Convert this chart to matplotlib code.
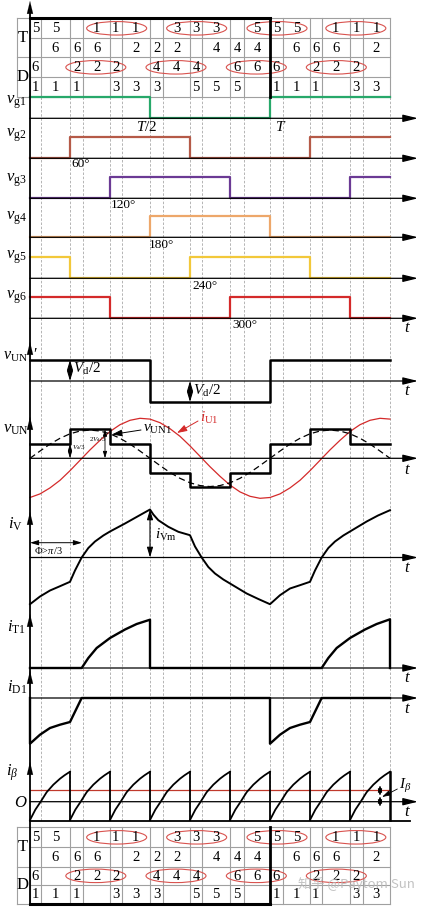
import matplotlib.pyplot as plt
import numpy as np
from matplotlib.patches import Ellipse

plt.rcParams['font.family'] = ['Liberation Serif', 'DejaVu Serif']
plt.rcParams['mathtext.fontset'] = 'custom'
plt.rcParams['mathtext.rm'] = 'Liberation Serif'
plt.rcParams['mathtext.it'] = 'Liberation Serif:italic'
plt.rcParams['mathtext.bf'] = 'Liberation Serif:bold'

# sector edges and the dashed guide lines (current zero crossings), degrees
sectors = [0, 60, 120, 180, 240, 300, 360, 420, 480, 540]
grid_deg = [0, 16, 60, 80, 120, 137.5, 180, 200, 240, 258, 300, 321,
            360, 379, 420, 437.5, 480, 499, 540]

# conduction table (one entry per column between guide lines)
t_upper = ['5', '5', '', '1', '1', '1', '', '3', '3', '3', '', '5', '5', '5', '', '1', '1', '1']
t_lower = ['', '6', '6', '6', '', '2', '2', '2', '', '4', '4', '4', '', '6', '6', '6', '', '2']
d_upper = ['6', '', '2', '2', '2', '', '4', '4', '4', '', '6', '6', '6', '', '2', '2', '2', '']
d_lower = ['1', '1', '1', '', '3', '3', '3', '', '5', '5', '5', '', '1', '1', '1', '', '3', '3']
t_circled = [(3, 5), (7, 9), (11, 13), (15, 17)]
d_circled = [(2, 4), (6, 8), (10, 12), (14, 16)]

# gate signals, one state per 60 degree sector
vg1 = [1, 1, 1, 0, 0, 0, 1, 1, 1]
vg2 = [0, 1, 1, 1, 0, 0, 0, 1, 1]
vg3 = [0, 0, 1, 1, 1, 0, 0, 0, 1]
vg4 = [0, 0, 0, 1, 1, 1, 0, 0, 0]
vg5 = [1, 0, 0, 0, 1, 1, 1, 0, 0]
vg6 = [1, 1, 0, 0, 0, 1, 1, 1, 0]

# phase voltages per sector (vUN' in Vd/2, vUN in Vd/3)
vunp = [1, 1, 1, -1, -1, -1, 1, 1, 1]
vun = [1, 2, 1, -1, -2, -1, 1, 2, 1]

# fundamental voltage (Vd/3) and fundamental current (p.u.), every 15 degrees
wave_deg = list(range(0, 541, 15))
vun1 = [0, 0.50, 0.98, 1.38, 1.69, 1.88, 1.95, 1.88, 1.69, 1.38, 0.98, 0.50, 0,
        -0.50, -0.98, -1.38, -1.69, -1.88, -1.95, -1.88, -1.69, -1.38, -0.98, -0.50, 0,
        0.50, 0.98, 1.38, 1.69, 1.88, 1.95, 1.88, 1.69, 1.38, 0.98, 0.50, 0]
iu1 = [-0.98, -0.89, -0.74, -0.55, -0.31, -0.05, 0.21, 0.45, 0.67, 0.84, 0.95, 1.0, 0.98,
       0.89, 0.74, 0.55, 0.31, 0.05, -0.21, -0.45, -0.67, -0.84, -0.95, -1.0, -0.98,
       -0.89, -0.74, -0.55, -0.31, -0.05, 0.21, 0.45, 0.67, 0.84, 0.95, 1.0, 0.98]

# phase current iV (arbitrary units, iVm = 48)
iv_deg = [0, 15, 30, 45, 60, 67.5, 77.5, 87.5, 97.5, 110, 120, 142.5, 162, 180,
          185, 192.5, 207.5, 222.5, 240, 247.5, 257.5, 267.5, 277.5, 290, 300, 325, 342.5,
          360, 375, 390, 405, 420, 427.5, 437.5, 447.5, 457.5, 470, 480, 505, 522, 540]
iv = [-46.7, -39, -33, -28.7, -24.3, -13, 0, 9.5, 16, 22, 26, 34, 41.3, 48,
      43, 37.3, 30.7, 25.7, 22.3, 11, 0, -9.5, -16, -22, -26, -36, -41.5,
      -46.7, -37.7, -31, -27.7, -24.3, -13, 0, 9.5, 16, 22, 26, 36, 42, 47.3]

# switch and diode currents
it1_deg = [0, 77.5, 87.5, 100, 120, 142.5, 160, 180, 180, 437.5, 447.5, 460, 480, 502.5, 520, 540, 540]
it1 = [0, 0, 10, 20, 30, 38.5, 44, 48.3, 0, 0, 10, 20, 30, 38.5, 44, 48.7, 0]
id1_deg = [0, 0, 15, 30, 45, 60, 77.5, 360, 360, 375, 390, 405, 420, 437.5, 540]
id1 = [0, -45.7, -36.7, -30, -26.7, -24, 0, 0, -45.7, -36.7, -30, -26.7, -24, 0, 0]

# dc link current, one 60 degree period
ib_seg_deg = [0, 8, 16, 25, 35, 45, 52, 60]
ib_seg = [-18.3, -8, 0, 9.5, 17, 23, 26.5, 30]
ib_avg = 11.7


def arrow(ax, p0, p1, style='-|>', lw=0.9, color='k', hl=0.9, hw=0.22):
    ax.annotate('', xy=p1, xytext=p0,
                arrowprops=dict(arrowstyle=f'{style},head_length={hl},head_width={hw}',
                                color=color, lw=lw, shrinkA=0, shrinkB=0,
                                mutation_scale=10), zorder=6)


def draw_table(ax, ys, thick_top):
    grey = '#a0a0a0'
    x0 = -20
    for i, y in enumerate(ys):
        left = x0 if i in (0, 2, 4) else 0
        ax.plot([left, grid_deg[-1]], [y, y], color=grey, lw=0.8, zorder=1)
    ax.plot([x0, x0], [ys[0], ys[-1]], color=grey, lw=0.8, zorder=1)
    for d in grid_deg:
        ax.plot([d, d], [ys[0], ys[-1]], color=grey, lw=0.8, zorder=1)
    for r, row in enumerate([t_upper, t_lower, d_upper, d_lower]):
        yc = (ys[r] + ys[r + 1]) / 2
        for c, s in enumerate(row):
            if s:
                ax.text((grid_deg[c] + grid_deg[c + 1]) / 2, yc + 0.5, s,
                        ha='center', va='center', fontsize=10.5)
    ax.text(-11, ys[1], 'T', ha='center', va='center', fontsize=12)
    ax.text(-11, ys[3], 'D', ha='center', va='center', fontsize=12)
    for row, groups in ((0, t_circled), (2, d_circled)):
        yc = (ys[row] + ys[row + 1]) / 2
        for a, b in groups:
            xc = (grid_deg[a] + grid_deg[b + 1]) / 2
            ax.add_patch(Ellipse((xc, yc), 90, 13.5, fill=False,
                                 edgecolor='#d9534f', lw=0.8, zorder=2))
    y_edge = ys[0] if thick_top else ys[-1]
    ax.plot([0, 360], [y_edge, y_edge], color='k', lw=2.2, zorder=4)
    ax.plot([360, 360], [ys[0], ys[-1]], color='k', lw=2.0, zorder=4)


def main():
    fig = plt.figure(figsize=(4.26, 9.08), dpi=100)
    ax = fig.add_axes([0, 0, 1, 1])
    ax.set_xlim(-45, 594)
    ax.set_ylim(908, 0)
    ax.axis('off')

    for d in grid_deg[1:]:
        ax.plot([d, d], [97, 821], color='#a8a8a8', lw=0.6, ls=(0, (3, 2)), zorder=0)

    draw_table(ax, [18.3, 38.3, 57.3, 77.3, 96.7], True)
    draw_table(ax, [827.3, 847.3, 866.7, 885, 904], False)

    # main vertical axis
    ax.plot([0, 0], [904, 10], color='k', lw=1.3, zorder=5)
    for ytop in [1, 342, 417, 512, 614, 671, 762]:
        arrow(ax, (0, ytop + 14), (0, ytop), lw=0.1)

    x_end = 582
    tx = 565.5
    h = 21.4
    gates = [(vg1, 118.3, '#27a86a', 'g1', 102), (vg2, 158.3, '#b55a48', 'g2', 135),
             (vg3, 198.3, '#6b3a94', 'g3', 180), (vg4, 237.3, '#eda76a', 'g4', 218),
             (vg5, 278.3, '#f2c83a', 'g5', 257), (vg6, 318.3, '#d42a2a', 'g6', 297)]
    for states, base, col, name, ly in gates:
        arrow(ax, (0, base), (x_end, base))
        ax.step(sectors, base - h * np.array(states + [states[-1]]), where='post',
                color=col, lw=1.6, zorder=3)
        ax.text(-21, ly, r'$v_{\rm %s}$' % name, ha='center', va='center', fontsize=12)
    ax.text(175.5, 127, r'$T/2$', ha='center', va='center', fontsize=11)
    ax.text(367.5, 127, r'$T$', ha='left', va='center', fontsize=11)
    for lx, ly, s in [(61.5, 164, '60°'), (121.5, 205, '120°'), (178.5, 245, '180°'),
                      (243, 286, '240°'), (303, 325, '300°')]:
        ax.text(lx, ly, s, ha='left', va='center', fontsize=9.5)
    ax.text(tx, 328, r'$t$', ha='center', va='center', fontsize=12)

    # vUN'
    b = 381
    arrow(ax, (0, b), (x_end, b))
    ax.step(sectors, b - 21.3 * np.array(vunp + [vunp[-1]]), where='post', color='k', lw=1.8, zorder=3)
    ax.text(-41, 355, r"$v_{\rm UN}\;\;\prime$", ha='left', va='center', fontsize=11.5, zorder=8)
    arrow(ax, (60, b), (60, 360), style='<|-|>', lw=0.8, hl=0.6, hw=0.18)
    arrow(ax, (240, b), (240, 402), style='<|-|>', lw=0.8, hl=0.6, hw=0.18)
    ax.text(64.5, 369, r'$V_{\rm d}/2$', ha='left', va='center', fontsize=11)
    ax.text(244.5, 391, r'$V_{\rm d}/2$', ha='left', va='center', fontsize=11)
    ax.text(tx, 391, r'$t$', ha='center', va='center', fontsize=12)

    # vUN
    b = 458.3
    arrow(ax, (0, b), (x_end, b))
    ax.plot(wave_deg, b - 40 * np.array(iu1), color='#d42a2a', lw=0.9, zorder=3)
    ax.plot(wave_deg, b - 14.5 * np.array(vun1), color='k', lw=0.9, ls=(0, (5, 3)), zorder=3)
    ax.step(sectors, b - 14.5 * np.array(vun + [vun[-1]]), where='post', color='k', lw=1.8, zorder=4)
    ax.text(-21, 429, r'$v_{\rm UN}$', ha='center', va='center', fontsize=12)
    arrow(ax, (60, b), (60, 443.8), style='<|-|>', lw=0.6, hl=0.4, hw=0.12)
    arrow(ax, (112.5, b), (112.5, 429.3), style='<|-|>', lw=0.6, hl=0.4, hw=0.12)
    ax.text(63, 448, r'$V_{\rm d}/3$', ha='left', va='center', fontsize=5)
    ax.text(88.5, 440, r'$2V_{\rm d}/3$', ha='left', va='center', fontsize=5)
    ax.text(169.5, 429, r'$v_{\rm UN1}$', ha='left', va='center', fontsize=11)
    arrow(ax, (166.5, 430), (123, 434.5), lw=0.7, hl=0.6, hw=0.2)
    ax.text(255, 418, r'$i_{\rm U1}$', ha='left', va='center', fontsize=11, color='#d42a2a')
    arrow(ax, (252, 421), (220.5, 433), color='#d42a2a', lw=0.7, hl=0.6, hw=0.2)
    ax.text(tx, 470, r'$t$', ha='center', va='center', fontsize=12)

    # iV
    b = 557.5
    arrow(ax, (0, b), (x_end, b))
    ax.plot(iv_deg, b - np.array(iv), color='k', lw=1.4, zorder=3)
    ax.text(-22, 524, r'$i_{\rm V}$', ha='center', va='center', fontsize=12)
    arrow(ax, (0, 542.7), (78, 542.7), style='<|-|>', lw=0.7, hl=0.5, hw=0.15)
    ax.text(6, 550, r'$\Phi\!>\!\pi/3$', ha='left', va='center', fontsize=7.5)
    arrow(ax, (180, b), (180, 509.5), style='<|-|>', lw=0.8, hl=0.6, hw=0.18)
    ax.text(187.5, 535, r'$i_{\rm Vm}$', ha='left', va='center', fontsize=11)
    ax.text(tx, 568, r'$t$', ha='center', va='center', fontsize=12)

    # iT1
    b = 668
    arrow(ax, (0, b), (x_end, b))
    ax.plot(it1_deg, b - np.array(it1), color='k', lw=1.7, zorder=3)
    ax.text(-20, 627, r'$i_{\rm T1}$', ha='center', va='center', fontsize=12)
    ax.text(tx, 678, r'$t$', ha='center', va='center', fontsize=12)

    # iD1
    b = 698
    arrow(ax, (0, b), (x_end, b))
    ax.plot(id1_deg, b - np.array(id1), color='k', lw=1.7, zorder=3)
    ax.text(-20, 687, r'$i_{\rm D1}$', ha='center', va='center', fontsize=12)
    ax.text(tx, 709, r'$t$', ha='center', va='center', fontsize=12)

    # i_beta
    b = 801.7
    arrow(ax, (0, b), (x_end, b))
    ax.plot([0, 570], [821.3, 821.3], color='k', lw=1.3, zorder=3)
    ax.plot([0, 540], [b - ib_avg, b - ib_avg], color='#c0392b', lw=0.9, zorder=3)
    for s in sectors[:-1]:
        ax.plot(s + np.array(ib_seg_deg), b - np.array(ib_seg), color='k', lw=1.3, zorder=4)
        ax.plot([s + 60, s + 60], [b - ib_seg[-1], b - ib_seg[0]], color='k',
                lw=1.8 if s == sectors[-2] else 1.3, zorder=4)
    ax.text(-27, 773, r'$i_{\beta}$', ha='center', va='center', fontsize=12)
    ax.text(-13.5, 803, r'$O$', ha='center', va='center', fontsize=12)
    arrow(ax, (525, 796), (525, 785), style='<|-|>', lw=0.7, hl=0.4, hw=0.12)
    arrow(ax, (525, 796), (525, 807), style='<|-|>', lw=0.7, hl=0.4, hw=0.12)
    arrow(ax, (551, 789), (528, 797), lw=0.6, hl=0.5, hw=0.15)
    ax.text(553.5, 786, r'$I_{\beta}$', ha='left', va='center', fontsize=11)
    ax.text(tx, 812, r'$t$', ha='center', va='center', fontsize=12)

    ax.text(490, 884, '知乎 @Paytom Sun', ha='center', va='center', fontsize=9.5,
            color='#b8b8b8', alpha=0.85, family=['Noto Sans CJK SC', 'DejaVu Sans'], zorder=7)

    plt.savefig('out.png', dpi=100)


if __name__ == '__main__':
    main()
